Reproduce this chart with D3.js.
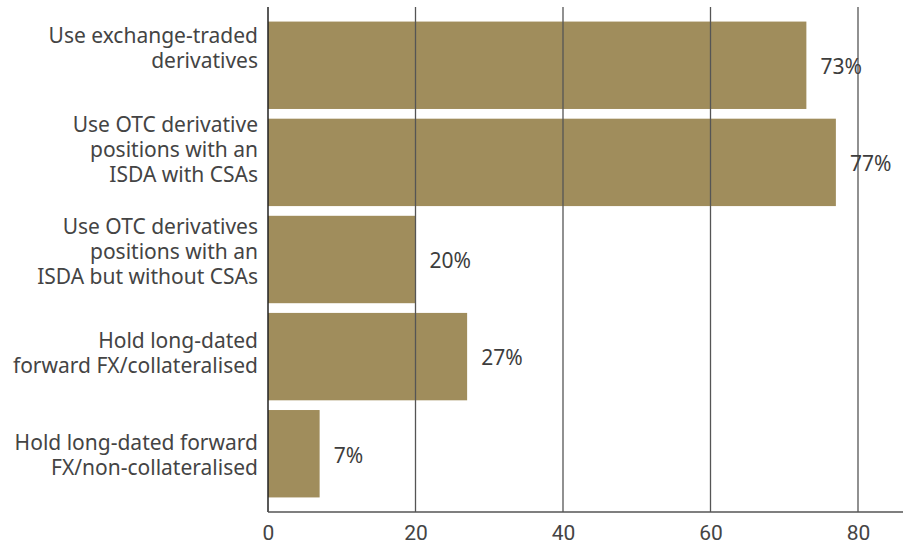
<!DOCTYPE html>
<html>
<head>
<meta charset="utf-8">
<script src="https://cdn.jsdelivr.net/npm/d3@7"></script>
<style>
  html, body { margin: 0; padding: 0; background: #fff; }
  svg { display: block; }
</style>
</head>
<body>
<svg id="chart" width="910" height="546"></svg>
<script>
// Share of respondents by derivative usage
const categories = [
  ["Use exchange-traded", "derivatives"],
  ["Use OTC derivative", "positions with an", "ISDA with CSAs"],
  ["Use OTC derivatives", "positions with an", "ISDA but without CSAs"],
  ["Hold long-dated", "forward FX/collateralised"],
  ["Hold long-dated forward", "FX/non-collateralised"]
];
const values = [73, 77, 20, 27, 7];
const xTicks = [0, 20, 40, 60, 80];

const svg = d3.select("#chart");
const plotLeft = 268, plotRight = 903, plotTop = 7, plotBottom = 512;

const x = d3.scaleLinear().domain([0, 80]).range([plotLeft, 858]);
const y = d3.scaleBand()
  .domain(d3.range(values.length))
  .range([plotTop, plotBottom])
  .paddingInner(0.1)
  .paddingOuter(0.15);
// label blocks sit on their own evenly spaced centres
const yLabel = d3.scalePoint()
  .domain(d3.range(categories.length))
  .range([48, 455]);

const barColor = "#a08d5c";
const textColor = "#3d3d3d";
const fontSans = "'Noto Sans', sans-serif";

// bars
svg.append("g").selectAll("rect")
  .data(values)
  .join("rect")
  .attr("x", x(0))
  .attr("y", (d, i) => y(i))
  .attr("width", d => x(d) - x(0))
  .attr("height", y.bandwidth())
  .attr("fill", barColor);

// vertical gridlines drawn over the bars
svg.append("g").selectAll("line")
  .data(xTicks.filter(t => t > 0))
  .join("line")
  .attr("x1", d => x(d)).attr("x2", d => x(d))
  .attr("y1", plotTop).attr("y2", plotBottom)
  .attr("stroke", "#555")
  .attr("stroke-width", 1.3);

// category axis line
svg.append("line")
  .attr("x1", x(0)).attr("x2", x(0))
  .attr("y1", plotTop).attr("y2", plotBottom)
  .attr("stroke", "#222")
  .attr("stroke-width", 1.5);

// value axis
const xAxis = d3.axisBottom(x).tickValues(xTicks).tickSize(0).tickPadding(13);
const gx = svg.append("g")
  .attr("transform", `translate(0,${plotBottom})`)
  .call(xAxis);
gx.select(".domain").remove();
gx.append("line")
  .attr("x1", x(0)).attr("x2", plotRight)
  .attr("stroke", "#555").attr("stroke-width", 1.5);
gx.selectAll(".tick text")
  .attr("font-family", "Roboto, sans-serif")
  .attr("font-size", 21)
  .attr("fill", "#444");

// category labels
const lineH = 25.3;
const labels = svg.append("g").selectAll("text")
  .data(categories)
  .join("text")
  .attr("text-anchor", "end")
  .attr("font-family", fontSans)
  .attr("font-size", 21)
  .attr("fill", "#444")
  .attr("transform", (d, i) => {
    const y0 = yLabel(i) - (d.length - 1) * lineH / 2;
    return `translate(258,${y0})`;
  });
labels.selectAll("tspan")
  .data(d => d)
  .join("tspan")
  .attr("x", 0)
  .attr("y", (d, j) => j * lineH)
  .attr("dy", "0.35em")
  .text(d => d);

// value labels
svg.append("g").selectAll("text")
  .data(values)
  .join("text")
  .attr("x", d => x(d) + 14)
  .attr("y", (d, i) => y(i) + y.bandwidth() / 2 + 1.5)
  .attr("dy", "0.35em")
  .attr("font-family", fontSans)
  .attr("font-size", 21)
  .attr("fill", textColor)
  .text(d => d + "%");
</script>
</body>
</html>
